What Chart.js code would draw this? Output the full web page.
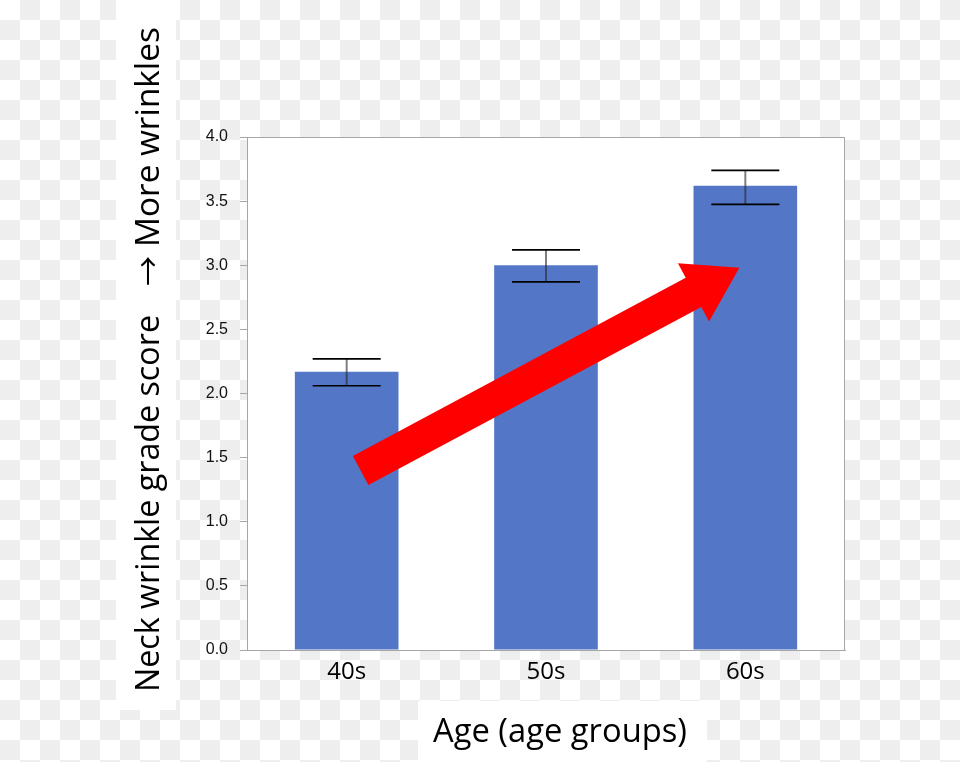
<!DOCTYPE html>
<html>
<head>
<meta charset="utf-8">
<script src="https://cdn.jsdelivr.net/npm/chart.js@4/dist/chart.umd.min.js"></script>
<style>
  html, body { margin: 0; padding: 0; }
  body {
    width: 960px; height: 762px; overflow: hidden;
    background: repeating-conic-gradient(#eeeeee 0% 25%, #ffffff 0% 50%) 0 0 / 40px 40px;
  }
  canvas { display: block; }
</style>
</head>
<body>
<canvas id="c" width="960" height="762"></canvas>
<script>
// ---- data ----
const categories = ['40s', '50s', '60s'];
const meanScores = [2.17, 3.00, 3.62];
const errLow = [2.06, 2.87, 3.475];
const errHigh = [2.27, 3.12, 3.74];
const yTicks = [0.0, 0.5, 1.0, 1.5, 2.0, 2.5, 3.0, 3.5, 4.0];
// trend arrow annotation, in data units (category index, score)
const arrowTailX = 0.07, arrowTailY = 1.40;
const arrowHeadX = 1.97, arrowHeadY = 2.98;
const yTitleParts = ['Neck wrinkle grade score', '\u2192', 'More wrinkles'];
const xTitle = 'Age (age groups)';

const TITLE_FONT = '"Open Sans", "Liberation Sans", sans-serif';
const ARROW_FONT = '"Noto Sans CJK JP", "DejaVu Sans", sans-serif';

function fitFont(ctx, text, targetWidth, family) {
  ctx.font = '40px ' + family;
  const w = ctx.measureText(text).width;
  return (40 * targetWidth / w);
}

const decor = {
  id: 'decor',
  beforeDraw(chart) {
    const ctx = chart.ctx;
    const a = chart.chartArea;
    ctx.save();
    ctx.fillStyle = '#ffffff';
    ctx.fillRect(116, 0, 60, 710);      // y-title box
    ctx.fillRect(418, 701, 289, 61);    // x-title box
    ctx.fillRect(a.left, a.top, a.right - a.left, a.bottom - a.top); // plot area
    ctx.restore();
  },
  afterDatasetsDraw(chart) {
    const ctx = chart.ctx;
    const xs = chart.scales.x, ys = chart.scales.y;
    ctx.save();
    for (let i = 0; i < categories.length; i++) {
      const x = xs.getPixelForValue(i);
      const yh = ys.getPixelForValue(errHigh[i]);
      const yl = ys.getPixelForValue(errLow[i]);
      ctx.strokeStyle = 'rgba(40,40,40,0.6)';
      ctx.lineWidth = 2;
      ctx.beginPath();
      ctx.moveTo(x, yh); ctx.lineTo(x, yl);
      ctx.stroke();
      ctx.strokeStyle = '#000';
      ctx.lineWidth = 1.6;
      ctx.beginPath();
      ctx.moveTo(x - 34, yh); ctx.lineTo(x + 34, yh);
      ctx.moveTo(x - 34, yl); ctx.lineTo(x + 34, yl);
      ctx.stroke();
    }
    const x0 = xs.getPixelForValue(arrowTailX), y0 = ys.getPixelForValue(arrowTailY);
    const x1 = xs.getPixelForValue(arrowHeadX), y1 = ys.getPixelForValue(arrowHeadY);
    const dx = x1 - x0, dy = y1 - y0, len = Math.hypot(dx, dy);
    const ux = dx / len, uy = dy / len, nx = -uy, ny = ux;
    const shaft = 16.5, head = 33, headLen = 52;
    const bx = x1 - ux * headLen, by = y1 - uy * headLen;
    ctx.fillStyle = '#ff0000';
    ctx.beginPath();
    ctx.moveTo(x0 + nx * shaft, y0 + ny * shaft);
    ctx.lineTo(bx + nx * shaft, by + ny * shaft);
    ctx.lineTo(bx + nx * head, by + ny * head);
    ctx.lineTo(x1, y1);
    ctx.lineTo(bx - nx * head, by - ny * head);
    ctx.lineTo(bx - nx * shaft, by - ny * shaft);
    ctx.lineTo(x0 - nx * shaft, y0 - ny * shaft);
    ctx.closePath();
    ctx.fill();
    ctx.restore();
  },
  afterDraw(chart) {
    const ctx = chart.ctx;
    const a = chart.chartArea;
    ctx.save();
    ctx.strokeStyle = '#a6a6a6';
    ctx.lineWidth = 1;
    ctx.strokeRect(Math.round(a.left) + 0.5, Math.round(a.top) + 0.5,
                   Math.round(a.right - a.left) - 1, Math.round(a.bottom - a.top));
    ctx.fillStyle = '#000';
    ctx.textBaseline = 'alphabetic';
    ctx.textAlign = 'center';
    let fs = fitFont(ctx, xTitle, 254, TITLE_FONT);
    ctx.font = fs.toFixed(2) + 'px ' + TITLE_FONT;
    ctx.fillText(xTitle, 560, 742);

    // rotated y title, drawn in three pieces
    ctx.translate(159, 0);
    ctx.rotate(-Math.PI / 2);
    ctx.textAlign = 'left';
    fs = fitFont(ctx, yTitleParts[0], 377, TITLE_FONT);
    ctx.font = fs.toFixed(2) + 'px ' + TITLE_FONT;
    ctx.fillText(yTitleParts[0], -692, 0);
    fs = fitFont(ctx, yTitleParts[2], 220, TITLE_FONT);
    ctx.font = fs.toFixed(2) + 'px ' + TITLE_FONT;
    ctx.fillText(yTitleParts[2], -247, 0);
    ctx.textAlign = 'center';
    ctx.font = '30px ' + ARROW_FONT;
    ctx.fillText(yTitleParts[1], -271, 0);
    ctx.restore();
  }
};

new Chart(document.getElementById('c'), {
  type: 'bar',
  data: {
    labels: categories,
    datasets: [{
      data: meanScores,
      backgroundColor: '#5377c6',
      borderWidth: 0,
      categoryPercentage: 1.0,
      barPercentage: 0.52
    }]
  },
  options: {
    responsive: false,
    animation: false,
    devicePixelRatio: 1,
    layout: { padding: { left: 0, right: 115, top: 137, bottom: 0 } },
    plugins: { legend: { display: false }, tooltip: { enabled: false } },
    scales: {
      x: {
        grid: { display: false, drawTicks: false },
        border: { display: true, color: '#a6a6a6' },
        ticks: { color: '#000', font: { family: '"Open Sans", sans-serif', size: 24 }, padding: 8 },
        afterFit: s => { s.height = 112; }
      },
      y: {
        min: 0, max: 4,
        afterBuildTicks: s => { s.ticks = yTicks.map(v => ({ value: v })); },
        ticks: {
          color: '#111',
          font: { family: '"Liberation Sans", sans-serif', size: 16 },
          padding: 12,
          callback: v => Number(v).toFixed(1)
        },
        grid: { drawOnChartArea: false, tickLength: 7, color: '#a6a6a6' },
        border: { display: true, color: '#a6a6a6' },
        afterFit: s => { s.width = 247; }
      }
    }
  },
  plugins: [decor]
});
</script>
</body>
</html>
